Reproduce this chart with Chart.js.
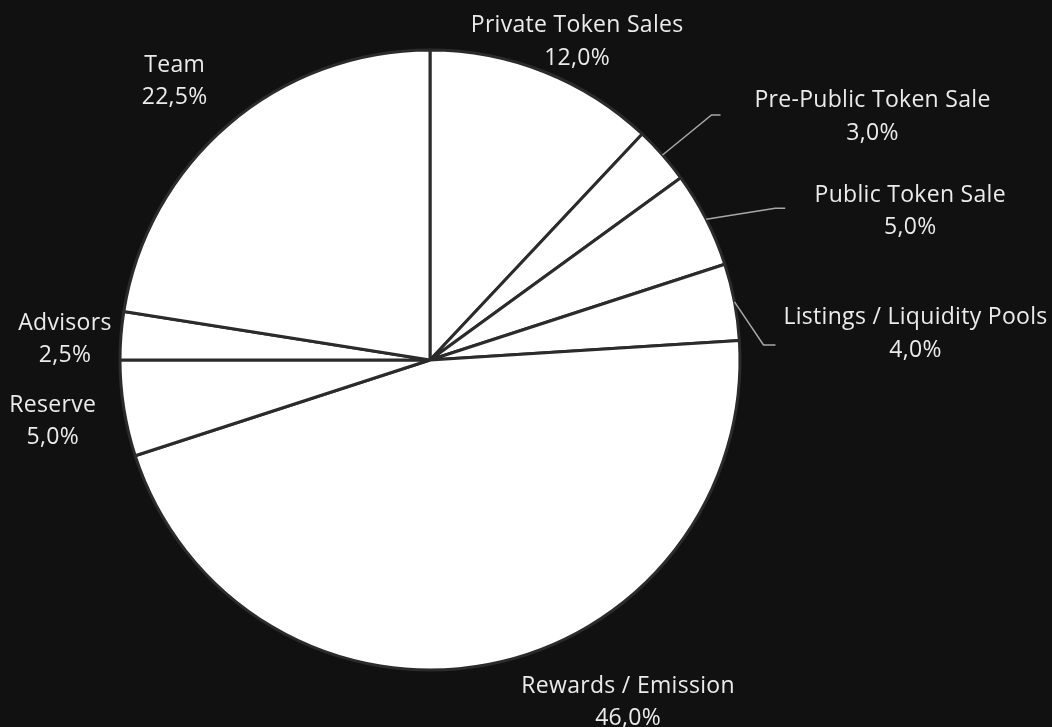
<!DOCTYPE html>
<html>
<head>
<meta charset="utf-8">
<script src="https://cdn.jsdelivr.net/npm/chart.js@4/dist/chart.umd.min.js"></script>
<style>
  html, body { margin: 0; padding: 0; background: #111111; }
  #wrap { width: 1052px; height: 727px; position: relative; }
</style>
</head>
<body>
<div id="wrap"><canvas id="c"></canvas></div>
<script>
const categories = ['Private Token Sales', 'Pre-Public Token Sale', 'Public Token Sale', 'Listings / Liquidity Pools', 'Rewards / Emission', 'Reserve', 'Advisors', 'Team'];
const shares = [12.0, 3.0, 5.0, 4.0, 46.0, 5.0, 2.5, 22.5];

// label placement relative to each slice's outer mid-point (style config)
const labelLayout = [
  { tx: 33,  ty: -30 },
  { tx: 210, ty: -38, elbow: [49, -40], end: [58, -40] },
  { tx: 204, ty: -8,  elbow: [69, -11], end: [79, -11] },
  { tx: 181, ty: 32,  elbow: [29, 43],  end: [41, 43] },
  { tx: 140, ty: 38 },
  { tx: -71, ty: 13 },
  { tx: -56, ty: 4 },
  { tx: -54, ty: -43 }
];

const fmtPct = v => v.toFixed(1).replace('.', ',') + '%';

const outsideLabels = {
  id: 'outsideLabels',
  afterDatasetsDraw(chart) {
    const ctx = chart.ctx;
    const meta = chart.getDatasetMeta(0);
    const data = chart.data.datasets[0].data;
    ctx.save();
    meta.data.forEach((arc, i) => {
      const p = arc.getProps(['x', 'y', 'startAngle', 'endAngle', 'outerRadius'], true);
      const mid = (p.startAngle + p.endAngle) / 2;
      const mx = p.x + Math.cos(mid) * p.outerRadius;
      const my = p.y + Math.sin(mid) * p.outerRadius;
      const L = labelLayout[i];
      if (L.elbow) {
        ctx.beginPath();
        ctx.strokeStyle = '#a8a8a8';
        ctx.lineWidth = 1.5;
        ctx.moveTo(mx, my);
        ctx.lineTo(mx + L.elbow[0], my + L.elbow[1]);
        ctx.lineTo(mx + L.end[0], my + L.end[1]);
        ctx.stroke();
      }
      ctx.fillStyle = '#ebebeb';
      ctx.font = '23px "Open Sans"';
      if ('letterSpacing' in ctx) ctx.letterSpacing = '0.3px';
      ctx.textAlign = 'center';
      ctx.textBaseline = 'middle';
      const cx = mx + L.tx, cy = my + L.ty;
      ctx.fillText(chart.data.labels[i], cx, cy - 16.25);
      ctx.fillText(fmtPct(data[i]), cx, cy + 16.25);
    });
    ctx.restore();
  }
};

new Chart(document.getElementById('c'), {
  type: 'pie',
  data: {
    labels: categories,
    datasets: [{
      data: shares,
      backgroundColor: '#ffffff',
      borderColor: '#2b2b2b',
      borderWidth: 3,
      radius: 310
    }]
  },
  options: {
    responsive: true,
    maintainAspectRatio: false,
    animation: false,
    devicePixelRatio: 1,
    layout: { padding: { left: 0, right: 192, top: 0, bottom: 7 } },
    plugins: {
      legend: { display: false },
      tooltip: { enabled: false }
    }
  },
  plugins: [outsideLabels]
});
</script>
</body>
</html>
